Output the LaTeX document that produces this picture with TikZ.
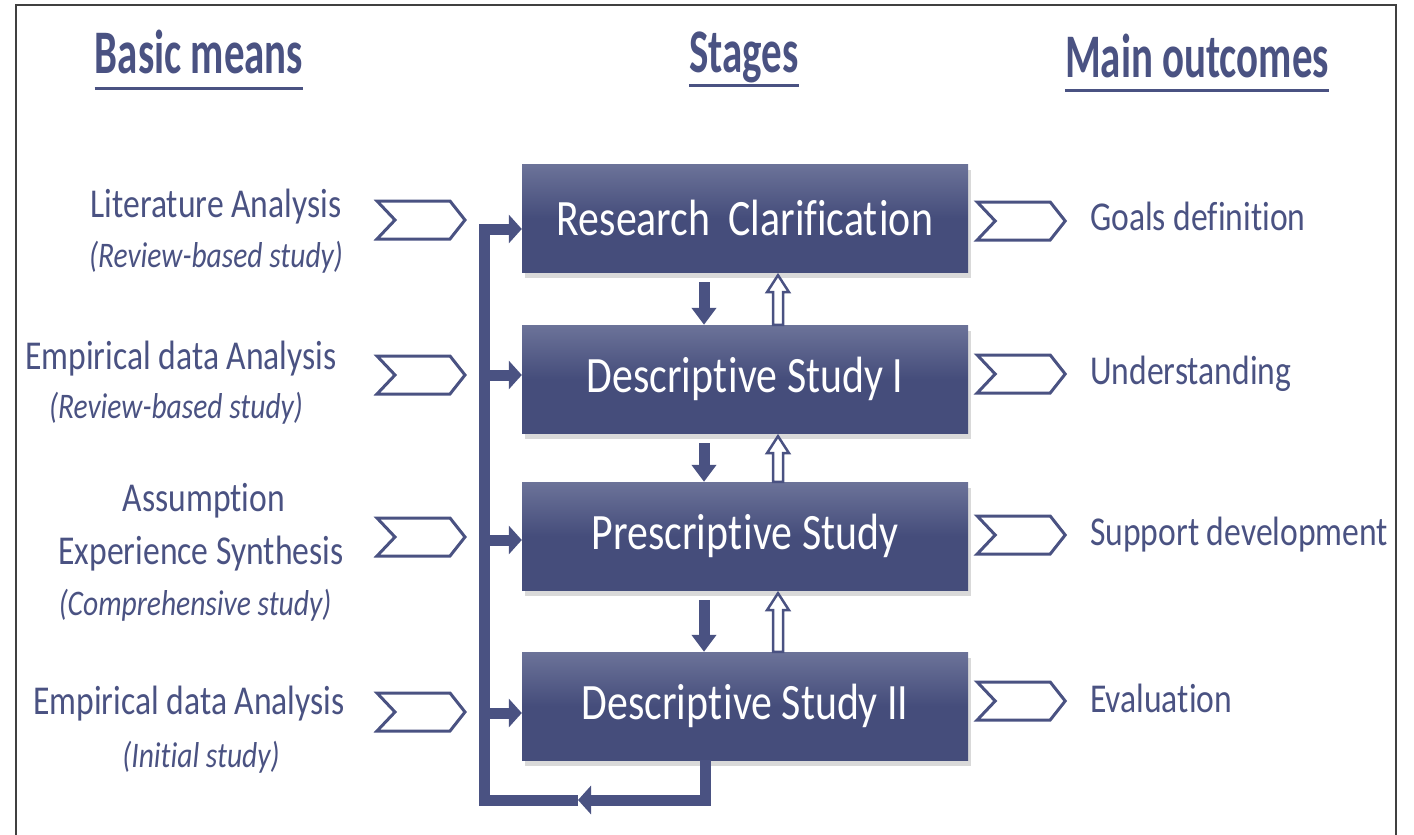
\documentclass[tikz,border=0pt]{standalone}
\usepackage{fontspec}
\setmainfont{Carlito}[FakeStretch=0.82,Ligatures={NoCommon,NoContextual,NoRare},Contextuals=NoAlternate]
\newfontfamily\headfont{Carlito}[FakeStretch=0.66,Ligatures={NoCommon,NoContextual,NoRare},Contextuals=NoAlternate]
\usepackage{tikz}
\usetikzlibrary{arrows.meta,shadows,positioning,calc}
\definecolor{ink}{HTML}{4A5282}
\definecolor{stagetop}{HTML}{6C7399}
\definecolor{stagebot}{HTML}{454D7B}
\definecolor{framecol}{HTML}{404040}
\def\ti{t\kern1.5pt i}
\def\chev#1{\draw [chevron] (#1) ++(-43,-19) -- ++(73,0) -- ++(15,19) -- ++(-15,19) -- ++(-73,0) -- ++(18,-19) -- cycle}
\def\hollow#1#2{\draw [hollowarr] ([xshift=28pt]#2.north) -- ([xshift=28pt,yshift=-20pt]#1.south) -- ([xshift=22pt,yshift=-20pt]#1.south) -- ([xshift=33pt,yshift=-3pt]#1.south) -- ([xshift=44pt,yshift=-20pt]#1.south) -- ([xshift=38pt,yshift=-20pt]#1.south) -- ([xshift=38pt]#2.north) -- cycle}
\tikzstyle{stage}=[rectangle,minimum width=446pt,minimum height=108pt,inner sep=0pt,top color=stagetop,bottom color=stagebot,middle color=stagebot,text=white,font=\fontsize{51}{60}\selectfont,drop shadow={opacity=.3,shadow xshift=3pt,shadow yshift=-6pt}]
\tikzstyle{means}=[anchor=base,inner sep=0pt,text=ink,font=\fontsize{41}{49}\selectfont]
\tikzstyle{note}=[means,font=\itshape\fontsize{36}{43}\selectfont]
\tikzstyle{outcome}=[means,anchor=base west]
\tikzstyle{head}=[anchor=base,inner sep=0pt,text=ink,font=\headfont\bfseries\fontsize{62}{70}\selectfont]
\tikzstyle{uline}=[draw=ink,line width=3pt]
\tikzstyle{chevron}=[draw=ink,line width=3pt,line join=miter,fill=white]
\tikzstyle{feed}=[draw=ink,line width=11pt,line join=miter,-{Triangle[length=13pt,width=28pt]}]
\tikzstyle{downarr}=[draw=ink,line width=11pt,-{Triangle[length=17pt,width=24pt]}]
\tikzstyle{hollowarr}=[draw=ink,line width=2.5pt,line join=miter,fill=white]
\begin{document}
\begin{tikzpicture}[x=1pt,y=-1pt]
  \useasboundingbox (0,0) rectangle (1414,835);
  \draw [framecol,line width=2pt] (16,835) -- (16,5) -- (1396,5) -- (1396,835);
  % headings
  \node [head] (hmeans) at (199,73) {Basic means};
  \node [head] (hstages) at (744,72) {Stages};
  \node [head] (houts) at (1197,77) {Main outcomes};
  \draw [uline] ([yshift=-15pt]hmeans.base west) -- ([yshift=-15pt]hmeans.base east);
  \draw [uline] ([yshift=-13pt]hstages.base west) -- ([yshift=-13pt]hstages.base east);
  \draw [uline] ([yshift=-13pt]houts.base west) -- ([yshift=-13pt]houts.base east);
  % stages
  \node [stage] (rc) at (745,218) {Research\, Clarifica\ti on};
  \node [stage] (ds1) at (745,379) {Descrip\ti ve Study I};
  \node [stage] (ps) at (745,536) {Prescrip\ti ve Study};
  \node [stage] (ds2) at (745,706) {Descrip\ti ve Study II};
  \draw [downarr] ([xshift=-41pt,yshift=-10pt]rc.south) -- ([xshift=-41pt]ds1.north);
  \draw [downarr] ([xshift=-41pt,yshift=-10pt]ds1.south) -- ([xshift=-41pt]ps.north);
  \draw [downarr] ([xshift=-41pt,yshift=-10pt]ps.south) -- ([xshift=-41pt]ds2.north);
  \hollow{rc}{ds1};
  \hollow{ds1}{ps};
  \hollow{ps}{ds2};
  % feedback loop
  \coordinate (corner) at (484,800);
  \coordinate (loopmid) at (578,800);
  \coordinate (b1) at ([yshift=4pt]ds1.west);
  \coordinate (b2) at ([yshift=-4pt]ps.west);
  \coordinate (b3) at ([yshift=-7pt]ds2.west);
  \draw [feed] ([xshift=-40pt]ds2.south) |- (loopmid);
  \draw [feed] (loopmid) -- (corner) |- ([yshift=-11pt]rc.west);
  \draw [feed] (corner |- b1) -- (b1);
  \draw [feed] (corner |- b2) -- (b2);
  \draw [feed] (corner |- b3) -- (b3);
  % basic means
  \node [means] (lit) at (216,217) {Literature Analysis};
  \node [note] (litn) at ([yshift=-50pt]lit.base) {(Review-based study)};
  \node [means] (emp) at (181,369) {Empirical data Analysis};
  \node [note] (empn) at ([xshift=-5pt,yshift=-49pt]emp.base) {(Review-based study)};
  \node [means] (ass) at (204,511) {Assumption};
  \node [means] (exp) at ([xshift=-3pt,yshift=-53pt]ass.base) {Experience Synthesis};
  \node [note] (expn) at ([xshift=-6pt,yshift=-51pt]exp.base) {(Comprehensive study)};
  \node [means] (emp2) at (189,714) {Empirical data Analysis};
  \node [note] (emp2n) at ([xshift=12pt,yshift=-53pt]emp2.base) {(Initial study)};
  \coordinate (in1) at (420,220);
  \coordinate (in2) at (420,375);
  \coordinate (in3) at (420,537);
  \coordinate (in4) at (420,712);
  \chev{in1}; \chev{in2}; \chev{in3}; \chev{in4};
  % outcomes
  \chev{[xshift=52pt,yshift=-3pt]rc.east};
  \chev{[xshift=52pt,yshift=5pt]ds1.east};
  \chev{[xshift=52pt,yshift=1pt]ps.east};
  \chev{[xshift=52pt,yshift=5pt]ds2.east};
  \node [outcome] (goal) at (1090,230) {Goals definition};
  \node [outcome] (under) at (1090,384) {Understanding};
  \node [outcome] (supp) at (1090,545) {Support development};
  \node [outcome] (eval) at (1090,712) {Evaluation};
\end{tikzpicture}
\end{document}
